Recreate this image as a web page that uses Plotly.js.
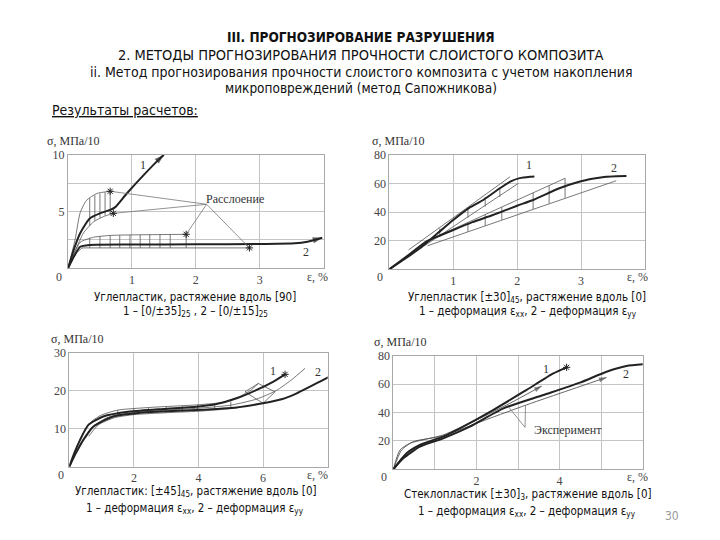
<!DOCTYPE html>
<html>
<head>
<meta charset="utf-8">
<script src="https://cdn.plot.ly/plotly-3.0.1.min.js"></script>
<style>html,body{margin:0;padding:0;background:#fff;}#chart{width:720px;height:540px;}</style>
</head>
<body>
<div id="chart"></div>
<script>
// ---------- Panel 1: Углепластик, растяжение вдоль [90] ----------
const p1_c1_x = [0, 0.1, 0.19, 0.34, 0.5, 0.66, 0.74, 0.92, 1.18, 1.44, 1.5];
const p1_c1_y = [0, 1.8, 3.1, 4.4, 4.85, 5.15, 5.4, 6.6, 8.2, 9.7, 10.0];
const p1_up1_x = [0, 0.11, 0.19, 0.29, 0.45, 0.66];
const p1_up1_y = [0, 2.5, 4.9, 6.0, 6.6, 6.8];
const p1_lo1_x = [0, 0.12, 0.24, 0.4, 0.55, 0.71];
const p1_lo1_y = [0, 1.6, 3.1, 4.1, 4.55, 4.85];
const p1_h1_x = [0.34, 0.42, 0.5, 0.58, 0.66];
const p1_h1_lo = [3.75, 4.2, 4.45, 4.65, 4.75];
const p1_h1_hi = [6.2, 6.45, 6.6, 6.72, 6.8];
const p1_c2_x = [0, 0.1, 0.19, 0.34, 1.0, 2.0, 3.0, 3.55, 3.75, 3.98];
const p1_c2_y = [0, 1.1, 1.9, 2.06, 2.1, 2.12, 2.15, 2.2, 2.35, 2.7];
const p1_up2_x = [0, 0.1, 0.19, 0.4, 0.66, 1.0, 1.5, 1.85];
const p1_up2_y = [0, 1.4, 2.3, 2.74, 2.9, 2.95, 2.98, 3.0];
const p1_lo2_x = [0, 0.12, 0.22, 1.0, 2.0, 2.84];
const p1_lo2_y = [0, 1.3, 1.8, 1.8, 1.8, 1.8];
const p1_h2_x = [0.34, 0.5, 0.66, 0.81, 0.97, 1.13, 1.28, 1.44, 1.6, 1.85];
const p1_h2_lo = [1.8, 1.8, 1.8, 1.8, 1.8, 1.8, 1.8, 1.8, 1.8, 1.8];
const p1_h2_hi = [2.7, 2.85, 2.9, 2.93, 2.95, 2.96, 2.97, 2.98, 2.99, 3.0];
const p1_star_x = [0.66, 0.71, 1.85, 2.84];
const p1_star_y = [6.8, 4.85, 3.0, 1.8];
const p1_note = [2.17, 5.65];
const p1_xticks = [1, 2, 3], p1_xlab = ['1', '2', '3'];
const p1_yticks = [5, 10], p1_ylab = ['5', '10'];
const p1_xgrid = [1, 2, 3], p1_ygrid = [2.5, 5, 7.5];

// ---------- Panel 2: Углепластик [±30]45 ----------
const p2_c1_x = [0, 0.2, 0.48, 0.75, 1.0, 1.25, 1.47, 1.73, 1.9, 2.04, 2.2, 2.27];
const p2_c1_y = [0, 6, 14.7, 25, 34.5, 43, 48.5, 56.7, 61.5, 63.8, 64.8, 65];
const p2_A_x = [0.3, 1.89], p2_A_y = [13.5, 64.8];
const p2_B_x = [0.55, 2.02], p2_B_y = [16.5, 60.2];
const p2_h1_x = [0.79, 1.23, 1.5, 1.73];
const p2_h1_lo = [23.3, 36.2, 43.9, 50.6];
const p2_h1_hi = [28.6, 42.3, 50.5, 57.3];
const p2_c2_x = [0, 0.3, 0.58, 1.0, 1.3, 1.62, 2.0, 2.25, 2.66, 2.97, 3.2, 3.39, 3.55, 3.71];
const p2_c2_y = [0, 10, 19.4, 27.5, 33, 38, 44.5, 48.5, 56.7, 61.3, 63.5, 64.8, 65.2, 65.3];
const p2_C_x = [0.55, 2.75], p2_C_y = [19, 63.7];
const p2_D_x = [0.6, 3.55], p2_D_y = [16.5, 62];
const p2_h2_x = [1.23, 1.5, 1.76, 2.25, 2.5, 2.75];
const p2_h2_lo = [26.3, 30.5, 34.6, 42.2, 46.1, 50.0];
const p2_h2_hi = [32.8, 38.3, 43.5, 53.5, 58.6, 63.7];
const p2_xticks = [1, 2, 3], p2_xlab = ['1', '2', '3'];
const p2_yticks = [20, 40, 60, 80], p2_ylab = ['20', '40', '60', '80'];
const p2_xgrid = [1, 2, 3], p2_ygrid = [20, 40, 60];

// ---------- Panel 3: Углепластик [±45]45 ----------
const p3_c1_x = [0, 0.15, 0.33, 0.59, 1.05, 1.88, 2.91, 3.94, 4.56, 5.18, 5.8, 6.32, 6.68];
const p3_c1_y = [0, 3.5, 7, 11, 13.2, 14.5, 15.2, 15.8, 16.5, 18, 20.2, 22.4, 24.3];
const p3_c2_x = [0, 0.2, 0.43, 0.74, 1.36, 2.39, 3.94, 5.18, 6.0, 6.6, 7.04, 7.76, 8.25];
const p3_c2_y = [0, 3.5, 7, 10.5, 13.2, 14.3, 14.9, 15.6, 16.7, 17.8, 19.3, 22.4, 24.6];
const p3_A_x = [0.45, 0.7, 1.0, 1.5, 2.5, 4.0, 4.8, 5.3, 5.6, 5.85];
const p3_A_y = [9, 12, 13.6, 14.9, 15.6, 16.3, 17.0, 18.6, 20.0, 21.9];
const p3_B_x = [0.5, 0.8, 1.2, 2.0, 3.0, 4.0, 5.0, 5.8, 6.4, 6.9, 7.3];
const p3_B_y = [7.5, 11, 13, 14.3, 14.9, 15.4, 16.2, 17.8, 20, 23, 25.9];
const p3_C_x = [0.6, 0.9, 1.4, 2.0, 3.0, 4.0, 5.0, 5.44];
const p3_C_y = [8, 11, 12.9, 13.7, 14.2, 14.6, 15.3, 15.9];
const p3_h_x = [1.5, 2.0, 2.45, 3.0, 3.5, 3.97, 4.5, 5.0];
const p3_h_lo = [13.1, 13.7, 14.0, 14.2, 14.4, 14.6, 14.9, 15.3];
const p3_h_hi = [14.9, 15.3, 15.5, 15.8, 16.0, 16.3, 16.7, 17.2];
const p3_quad_x = [5.44, 5.85, 6.37, 6.0, 5.44];
const p3_quad_y = [19.7, 21.9, 19.7, 16.7, 19.7];
const p3_xticks = [2, 4, 6], p3_xlab = ['2', '4', '6'];
const p3_yticks = [10, 20, 30], p3_ylab = ['10', '20', '30'];
const p3_xgrid = [2, 4, 6], p3_ygrid = [10, 20];

// ---------- Panel 4: Стеклопластик [±30]3 ----------
const p4_c1_x = [0, 0.32, 0.64, 1.2, 1.6, 2.4, 3.2, 3.85, 4.17];
const p4_c1_y = [0, 11.3, 17.1, 23, 28.8, 41.7, 55.8, 67.5, 71.8];
const p4_c2_x = [0, 0.24, 0.64, 1.2, 1.84, 2.65, 3.61, 4.49, 5.13, 5.61, 6.01];
const p4_c2_y = [0, 7.7, 15.9, 21.8, 30, 42.9, 52.3, 61, 68.7, 72.7, 73.9];
const p4_e1_x = [0, 0.16, 0.4, 1.2, 2.0, 2.8, 3.57];
const p4_e1_y = [0, 13.6, 18.3, 24.2, 34.7, 46.4, 58.6];
const p4_e2_x = [0, 0.2, 0.48, 1.2, 2.0, 3.2, 5.13];
const p4_e2_y = [0, 13.6, 19.5, 23.5, 32.4, 45.3, 64.7];
const p4_note = [3.17, 29.5];
const p4_note_to_x = [2.77, 3.18], p4_note_to_y = [44.0, 45.2];
const p4_xticks = [2, 4], p4_xlab = ['2', '4'];
const p4_yticks = [20, 40, 60, 80], p4_ylab = ['20', '40', '60', '80'];
const p4_xgrid = [1, 2, 3, 4, 5], p4_ygrid = [20, 40, 60];

// ---------- styles ----------
const DARK = '#222', THIN = '#555';
const SERIF = 'Liberation Serif, Times New Roman, serif';
const SANS = 'DejaVu Sans Condensed, Liberation Sans Narrow, sans-serif';
const W = 720, H = 540;
const traces = [];
function line(x, y, ax, w, c) {
  traces.push({x: x, y: y, xaxis: 'x' + ax, yaxis: 'y' + ax, mode: 'lines', type: 'scatter',
    line: {color: c, width: w, shape: 'spline', smoothing: 0.6}, cliponaxis: false, hoverinfo: 'skip'});
}
function straight(x, y, ax, w, c) {
  traces.push({x: x, y: y, xaxis: 'x' + ax, yaxis: 'y' + ax, mode: 'lines', type: 'scatter',
    line: {color: c, width: w}, cliponaxis: false, hoverinfo: 'skip'});
}
function hatch(xs, lo, hi, ax) {
  const X = [], Y = [];
  xs.forEach((v, i) => { X.push(v, v, null); Y.push(lo[i], hi[i], null); });
  straight(X, Y, ax, 0.8, THIN);
}
function stars(x, y, ax) {
  traces.push({x: x, y: y, xaxis: 'x' + ax, yaxis: 'y' + ax, mode: 'markers', type: 'scatter',
    marker: {symbol: 'asterisk-open', size: 6, color: DARK, line: {color: DARK, width: 1}}, cliponaxis: false, hoverinfo: 'skip'});
}
function arrowEnd(x, y, ax, size, c) {
  const n = x.length;
  traces.push({x: [x[n - 2], x[n - 1]], y: [y[n - 2], y[n - 1]], xaxis: 'x' + ax, yaxis: 'y' + ax,
    mode: 'markers', type: 'scatter', cliponaxis: false, hoverinfo: 'skip',
    marker: {symbol: ['circle', 'arrow'], size: [0, size], angleref: 'previous', color: c, line: {width: 0}}});
}
const ann = [];
function dtext(t, x, y, ax, size, anchor) {
  ann.push({xref: 'x' + ax, yref: 'y' + ax, x: x, y: y, text: t, showarrow: false,
    xanchor: anchor || 'center', font: {family: SERIF, size: size || 12, color: '#333'}});
}
function ptext(t, px, py, font, size, color, anchor) {
  ann.push({xref: 'paper', yref: 'paper', x: px / W, y: 1 - py / H, text: t, showarrow: false,
    xanchor: anchor || 'center', yanchor: 'middle', font: {family: font, size: size, color: color || '#222'}});
}

// Panel 1
line(p1_up1_x, p1_up1_y, '', 0.8, THIN);
line(p1_lo1_x, p1_lo1_y, '', 0.8, THIN);
hatch(p1_h1_x, p1_h1_lo, p1_h1_hi, '');
line(p1_up2_x, p1_up2_y, '', 0.8, THIN);
straight(p1_lo2_x, p1_lo2_y, '', 0.8, THIN);
hatch(p1_h2_x, p1_h2_lo, p1_h2_hi, '');
line(p1_c1_x, p1_c1_y, '', 2, DARK);
line(p1_c2_x, p1_c2_y, '', 2, DARK);
{
  const X = [], Y = [];
  p1_star_x.forEach((v, i) => { X.push(v, p1_note[0], null); Y.push(p1_star_y[i], p1_note[1], null); });
  straight(X, Y, '', 0.8, '#777');
}
stars(p1_star_x, p1_star_y, '');
arrowEnd(p1_c1_x, p1_c1_y, '', 10, DARK);
arrowEnd(p1_c2_x, p1_c2_y, '', 10, DARK);
dtext('Расслоение', 2.62, 6.1, '', 12);
dtext('1', 1.18, 9.1, '', 12);
dtext('2', 3.72, 1.45, '', 12);

// Panel 2
straight(p2_A_x, p2_A_y, '2', 0.8, THIN);
straight(p2_B_x, p2_B_y, '2', 0.8, THIN);
hatch(p2_h1_x, p2_h1_lo, p2_h1_hi, '2');
straight(p2_C_x, p2_C_y, '2', 0.8, THIN);
straight(p2_D_x, p2_D_y, '2', 0.8, THIN);
hatch(p2_h2_x, p2_h2_lo, p2_h2_hi, '2');
line(p2_c1_x, p2_c1_y, '2', 2, DARK);
line(p2_c2_x, p2_c2_y, '2', 2, DARK);
dtext('1', 2.19, 73, '2', 12);
dtext('2', 3.52, 71, '2', 12);

// Panel 3
line(p3_A_x, p3_A_y, '3', 0.8, THIN);
line(p3_B_x, p3_B_y, '3', 0.8, THIN);
line(p3_C_x, p3_C_y, '3', 0.8, THIN);
hatch(p3_h_x, p3_h_lo, p3_h_hi, '3');
straight(p3_quad_x, p3_quad_y, '3', 0.8, THIN);
line(p3_c1_x, p3_c1_y, '3', 2, DARK);
line(p3_c2_x, p3_c2_y, '3', 2, DARK);
stars([p3_c1_x[p3_c1_x.length - 1], p3_c2_x[p3_c2_x.length - 1]], [p3_c1_y[p3_c1_y.length - 1], p3_c2_y[p3_c2_y.length - 1]], '3');
dtext('1', 6.3, 25.2, '3', 12);
dtext('2', 7.7, 24.8, '3', 12);

// Panel 4
line(p4_e1_x, p4_e1_y, '4', 0.9, THIN);
line(p4_e2_x, p4_e2_y, '4', 0.9, THIN);
line(p4_c1_x, p4_c1_y, '4', 2, DARK);
line(p4_c2_x, p4_c2_y, '4', 2, DARK);
stars([p4_c1_x[p4_c1_x.length - 1], p4_c2_x[p4_c2_x.length - 1]], [p4_c1_y[p4_c1_y.length - 1], p4_c2_y[p4_c2_y.length - 1]], '4');
arrowEnd(p4_e1_x, p4_e1_y, '4', 8, THIN);
arrowEnd(p4_e2_x, p4_e2_y, '4', 8, THIN);
{
  const X = [], Y = [];
  p4_note_to_x.forEach((v, i) => { X.push(p4_note[0], v, null); Y.push(p4_note[1], p4_note_to_y[i], null); });
  straight(X, Y, '4', 0.8, '#777');
}
dtext('Эксперимент', 3.33, 27.7, '4', 12, 'left');
dtext('1', 3.67, 70.6, '4', 12);
dtext('2', 5.59, 66.8, '4', 12);

// axis helper
function axis(d0, d1, range, tv, tt, grid, anchor) {
  return {domain: [d0, d1], range: range, tickmode: 'array', tickvals: tv, ticktext: tt, anchor: anchor,
    showgrid: true, gridcolor: '#c4c4c4', gridwidth: 1, showline: true, linecolor: '#a8a8a8', linewidth: 1,
    mirror: true, zeroline: false, ticks: '',
    minor: {tickmode: 'array', tickvals: grid, showgrid: true, gridcolor: '#c4c4c4', gridwidth: 1, ticks: ''},
    tickfont: {family: SERIF, size: 12, color: '#444'}, fixedrange: true};
}
const layout = {
  width: W, height: H, margin: {l: 0, r: 0, t: 0, b: 0},
  paper_bgcolor: '#fff', plot_bgcolor: '#fff', showlegend: false,
  xaxis: axis(68 / W, 323.5 / W, [0, 4], p1_xticks, p1_xlab, p1_xgrid, 'y'),
  yaxis: axis(1 - 268.3 / H, 1 - 155 / H, [0, 10], p1_yticks, p1_ylab, p1_ygrid, 'x'),
  xaxis2: axis(389.3 / W, 645 / W, [0, 4], p2_xticks, p2_xlab, p2_xgrid, 'y2'),
  yaxis2: axis(1 - 269.3 / H, 1 - 155 / H, [0, 80], p2_yticks, p2_ylab, p2_ygrid, 'x2'),
  xaxis3: axis(69.3 / W, 327.7 / W, [0, 8], p3_xticks, p3_xlab, p3_xgrid, 'y3'),
  yaxis3: axis(1 - 466.7 / H, 1 - 352.7 / H, [0, 30], p3_yticks, p3_ylab, p3_ygrid, 'x3'),
  xaxis4: axis(393.3 / W, 642.7 / W, [0, 6], p4_xticks, p4_xlab, p4_xgrid, 'y4'),
  yaxis4: axis(1 - 469.3 / H, 1 - 355.7 / H, [0, 80], p4_yticks, p4_ylab, p4_ygrid, 'x4'),
  annotations: ann
};

// axis captions
const axisCap = [
  [73, 141, 59, 277, 317, 277],
  [398, 141, 380, 277, 637, 277],
  [77, 339, 61, 475, 317, 475],
  [400, 342, 384, 477, 637, 477]
];
axisCap.forEach(a => {
  ptext('σ, МПа/10', a[0], a[1], SERIF, 12, '#333');
  ptext('0', a[2], a[3], SERIF, 12, '#444');
  ptext('ε, %', a[4], a[5], SERIF, 12, '#444');
});

// header
ptext('<b>III. ПРОГНОЗИРОВАНИЕ РАЗРУШЕНИЯ</b>', 361, 37, SANS, 13.5, '#111');
ptext('2. МЕТОДЫ ПРОГНОЗИРОВАНИЯ ПРОЧНОСТИ СЛОИСТОГО КОМПОЗИТА', 361, 54.5, SANS, 14.5, '#111');
ptext('ii. Метод прогнозирования прочности слоистого композита с учетом накопления', 361, 72, SANS, 14, '#111');
ptext('микроповреждений (метод Сапожникова)', 361, 88.5, SANS, 13.5, '#111');
ptext('<u>Результаты расчетов:</u>', 50, 110, SANS, 14, '#111', 'left');

// sub-captions
const XX = '1 – деформация ε<sub>xx</sub>, 2 – деформация ε<sub>yy</sub>';
ptext('Углепластик, растяжение вдоль [90]', 195, 297, SANS, 11.5, '#111');
ptext('1 – [0/±35]<sub>25</sub> , 2 – [0/±15]<sub>25</sub>', 196, 312, SANS, 11.5, '#111');
ptext('Углепластик [±30]<sub>45</sub>, растяжение вдоль [0]', 527, 297, SANS, 11.5, '#111');
ptext(XX, 528, 312, SANS, 11.5, '#111');
ptext('Углепластик: [±45]<sub>45</sub>, растяжение вдоль [0]', 196, 491, SANS, 11.5, '#111');
ptext(XX, 195, 508, SANS, 11.5, '#111');
ptext('Стеклопластик [±30]<sub>3</sub>, растяжение вдоль [0]', 528, 494, SANS, 11.5, '#111');
ptext(XX, 527, 511, SANS, 11.5, '#111');
ptext('30', 672, 516, SANS, 12, '#999');

Plotly.newPlot('chart', traces, layout, {staticPlot: true, displayModeBar: false});
</script>
</body>
</html>
